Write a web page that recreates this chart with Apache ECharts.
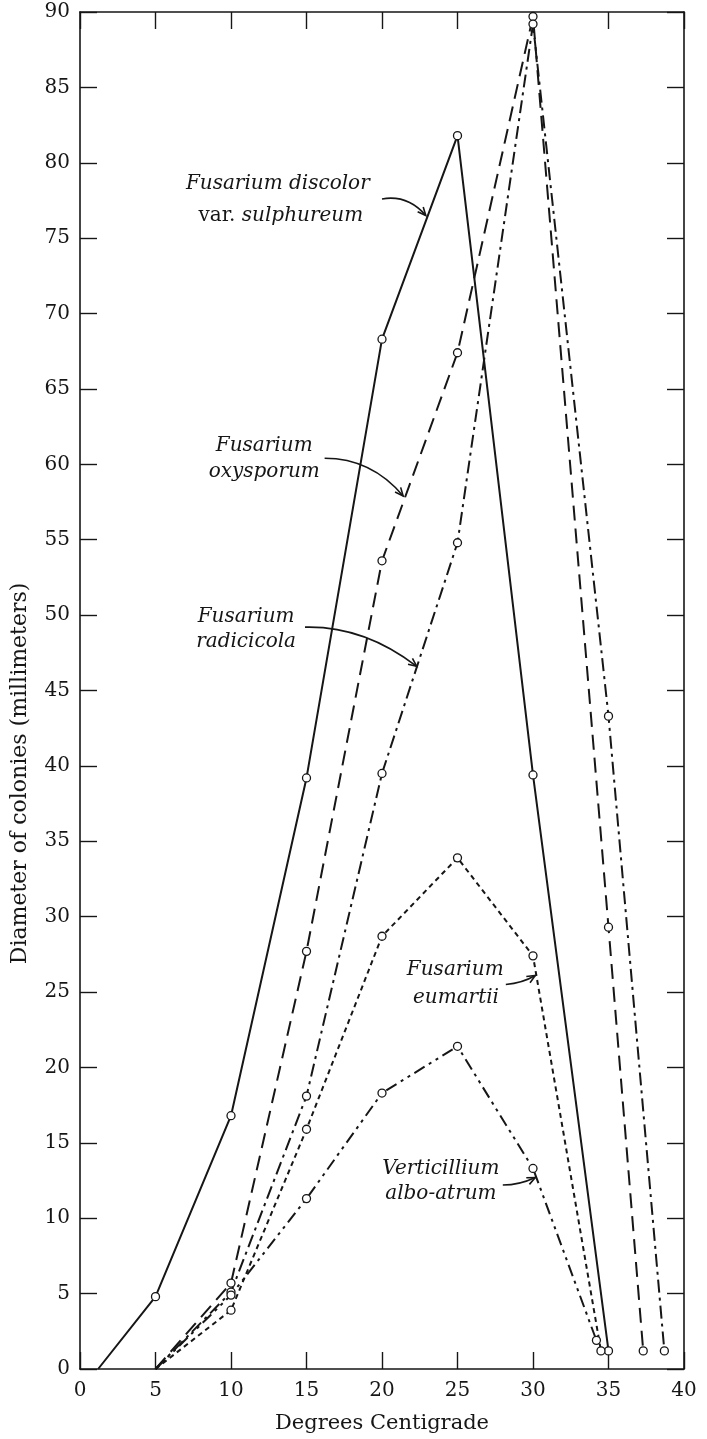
<!DOCTYPE html>
<html><head><meta charset="utf-8">
<script src="https://cdn.jsdelivr.net/npm/echarts@6/dist/echarts.min.js"></script>
<style>html,body{margin:0;padding:0;background:#fff}#c{width:707px;height:1439px}</style>
</head><body><div id="c"></div>
<script>
// ---- data (temperature in °C, colony diameter in mm); first point of each series is the extrapolated zero-growth intercept (no marker)
const xTickLabels = ['0','5','10','15','20','25','30','35','40'];
const yTickLabels = ['0','5','10','15','20','25','30','35','40','45','50','55','60','65','70','75','80','85','90'];
const seriesNames = ['Fusarium discolor var. sulphureum','Fusarium oxysporum','Fusarium radicicola','Fusarium eumartii','Verticillium albo-atrum'];
const discolorTemp = [1.2, 5, 10, 15, 20, 25, 30, 35];
const discolorDiam = [0, 4.8, 16.8, 39.2, 68.3, 81.8, 39.4, 1.2];
const oxysporumTemp = [5, 10, 15, 20, 25, 30, 35, 37.3];
const oxysporumDiam = [0, 5.7, 27.7, 53.6, 67.4, 89.7, 29.3, 1.2];
const radicicolaTemp = [5, 10, 15, 20, 25, 30, 35, 38.7];
const radicicolaDiam = [0, 5.1, 18.1, 39.5, 54.8, 89.2, 43.3, 1.2];
const eumartiiTemp = [5, 10, 15, 20, 25, 30, 34.5];
const eumartiiDiam = [0, 3.9, 15.9, 28.7, 33.9, 27.4, 1.2];
const verticilliumTemp = [5, 10, 15, 20, 25, 30, 34.2];
const verticilliumDiam = [0, 4.9, 11.3, 18.3, 21.4, 13.3, 1.9];

// ---- styling / layout (kept separate from data)
const INK = '#161616';
const FONT = '"DejaVu Serif", "Liberation Serif", serif';
const dashes = [null, [15, 8], [13, 5, 3, 5], [5, 4], [12, 5, 3, 5, 3, 5]];
const temps = [discolorTemp, oxysporumTemp, radicicolaTemp, eumartiiTemp, verticilliumTemp];
const diams = [discolorDiam, oxysporumDiam, radicicolaDiam, eumartiiDiam, verticilliumDiam];

const chart = echarts.init(document.getElementById('c'), null, {renderer: 'canvas'});

const series = seriesNames.map((name, k) => ({
  name: name,
  type: 'line',
  xAxisIndex: 0, yAxisIndex: 0,
  data: temps[k].map((t, i) => i === 0 ? {value: [t, diams[k][i]], symbol: 'none'} : [t, diams[k][i]]),
  symbol: 'circle', symbolSize: 8,
  itemStyle: {color: '#fff', borderColor: INK, borderWidth: 1.3},
  lineStyle: {color: INK, width: 2, type: dashes[k] || 'solid'},
  z: 3, animation: false, silent: true
}));

function axisCommon() {
  return {
    type: 'value', interval: 5,
    axisLine: {show: true, onZero: false, lineStyle: {color: INK, width: 1.6}},
    axisTick: {show: true, inside: true, length: 17, lineStyle: {color: INK, width: 1.4}},
    splitLine: {show: false}
  };
}

chart.setOption({
  animation: false,
  backgroundColor: '#fff',
  grid: {left: 80, right: 23, top: 12, bottom: 70, containLabel: false},
  xAxis: [
    Object.assign(axisCommon(), {position: 'bottom', min: 0, max: 40,
      axisLabel: {show: true, margin: 12, fontSize: 20, fontFamily: FONT, color: INK,
        formatter: v => xTickLabels[Math.round(v / 5)]},
      name: 'Degrees Centigrade', nameLocation: 'middle', nameGap: 44,
      nameTextStyle: {fontSize: 21, fontFamily: FONT, color: INK}}),
    Object.assign(axisCommon(), {position: 'top', min: 0, max: 40, axisLabel: {show: false}})
  ],
  yAxis: [
    Object.assign(axisCommon(), {position: 'left', min: 0, max: 90,
      axisLabel: {show: true, margin: 10, fontSize: 20, fontFamily: FONT, color: INK,
        formatter: v => yTickLabels[Math.round(v / 5)]}}),
    Object.assign(axisCommon(), {position: 'right', min: 0, max: 90, axisLabel: {show: false}})
  ],
  series: series
});

// ---- annotations: text lines and curved arrows anchored in data coordinates
const annotations = [
  {lines: [['Fusarium discolor', 'italic'], ['{n|var.} {i|sulphureum}', 'rich']], at: [[13.1, 78.6], [13.3, 76.5]],
   arrow: {from: [20.0, 77.6], ctrl: [21.7, 77.9], to: [22.9, 76.5]}},
  {lines: [['Fusarium', 'italic'], ['oxysporum', 'italic']], at: [[12.2, 61.2], [12.2, 59.5]],
   arrow: {from: [16.2, 60.4], ctrl: [19.3, 60.4], to: [21.4, 57.9]}},
  {lines: [['Fusarium', 'italic'], ['radicicola', 'italic']], at: [[11.0, 49.9], [11.0, 48.2]],
   arrow: {from: [14.9, 49.2], ctrl: [18.8, 49.3], to: [22.3, 46.6]}},
  {lines: [['Fusarium', 'italic'], ['eumartii', 'italic']], at: [[24.85, 26.5], [24.9, 24.6]],
   arrow: {from: [28.2, 25.5], ctrl: [29.3, 25.6], to: [30.15, 26.1]}},
  {lines: [['Verticillium', 'italic'], ['albo-atrum', 'italic']], at: [[23.9, 13.3], [23.9, 11.6]],
   arrow: {from: [28.0, 12.2], ctrl: [29.1, 12.2], to: [30.15, 12.7]}}
];

function px(p) { return chart.convertToPixel({xAxisIndex: 0, yAxisIndex: 0}, p); }

const graphics = [];
annotations.forEach(a => {
  a.lines.forEach((ln, j) => {
    const p = px(a.at[j]);
    const st = {x: p[0], y: p[1], fill: INK, align: 'center', verticalAlign: 'middle',
      fontSize: 20, fontFamily: FONT};
    st.text = ln[0];
    if (ln[1] === 'rich') {
      st.rich = {n: {fontStyle: 'normal', fontSize: 20, fontFamily: FONT, fill: INK},
                 i: {fontStyle: 'italic', fontSize: 20, fontFamily: FONT, fill: INK}};
    } else {
      st.fontStyle = 'italic';
    }
    graphics.push({type: 'text', silent: true, z: 10, style: st});
  });
  const f = px(a.arrow.from), c = px(a.arrow.ctrl), t = px(a.arrow.to);
  graphics.push({type: 'bezierCurve', silent: true, z: 10,
    shape: {x1: f[0], y1: f[1], cpx1: c[0], cpy1: c[1], x2: t[0], y2: t[1]},
    style: {stroke: INK, lineWidth: 1.6, fill: null}});
  const ang = Math.atan2(t[1] - c[1], t[0] - c[0]);
  const L = 9, w = 0.42;
  graphics.push({type: 'polyline', silent: true, z: 10,
    shape: {points: [[t[0] - L * Math.cos(ang - w), t[1] - L * Math.sin(ang - w)], [t[0], t[1]],
                     [t[0] - L * Math.cos(ang + w), t[1] - L * Math.sin(ang + w)]]},
    style: {stroke: INK, lineWidth: 1.6, fill: null}});
});

// y-axis title (rotated), centred a little below the middle as in the original
const yt = px([0, 39.5]);
graphics.push({type: 'text', silent: true, x: 20, y: yt[1], rotation: Math.PI / 2,
  style: {text: 'Diameter of colonies (millimeters)', x: 0, y: 0, align: 'center', verticalAlign: 'middle',
    fontSize: 22, fontFamily: FONT, fill: INK}});

chart.setOption({graphic: graphics});
</script></body></html>
